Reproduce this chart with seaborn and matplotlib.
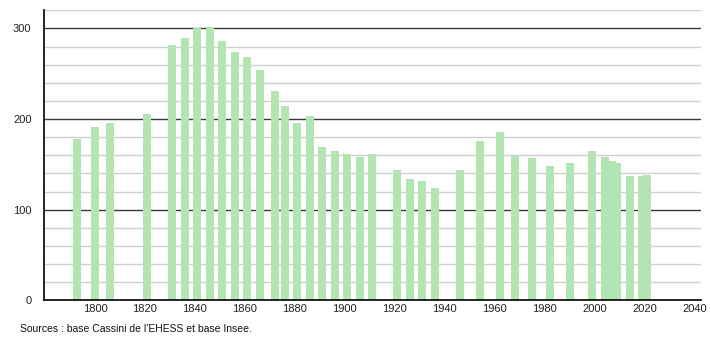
import matplotlib
matplotlib.use("Agg")
import matplotlib.pyplot as plt
import seaborn as sns
import numpy as np
import pandas as pd
from matplotlib.ticker import MultipleLocator

years = [1793, 1800, 1806, 1821, 1831, 1836, 1841, 1846, 1851, 1856,
         1861, 1866, 1872, 1876, 1881, 1886, 1891, 1896, 1901, 1906,
         1911, 1921, 1926, 1931, 1936, 1946, 1954, 1962, 1968, 1975,
         1982, 1990, 1999, 2004, 2007, 2009, 2014, 2019, 2021]
population = [178, 191, 196, 206, 282, 289, 300, 302, 286, 274,
              268, 254, 231, 214, 196, 203, 169, 165, 161, 158,
              161, 144, 134, 132, 124, 144, 176, 186, 159, 157,
              148, 151, 165, 158, 154, 152, 137, 137, 138]
x_ticks = [1800, 1820, 1840, 1860, 1880, 1900, 1920, 1940, 1960, 1980, 2000, 2020, 2040]
y_ticks = [0, 100, 200, 300]
source_text = "Sources : base Cassini de l'EHESS et base Insee."

df = pd.DataFrame({"year": years, "pop": population})

sns.set_style("white")
plt.rcParams['font.family'] = ['Liberation Sans', 'DejaVu Sans']

fig = plt.figure(figsize=(7.1, 3.4), dpi=100)
ax = fig.add_axes([44 / 710, 1 - 300.3 / 340, (700.7 - 44) / 710, (300.3 - 10.3) / 340])

min_gap = np.min(np.diff(sorted(years)))
bar_w = 3.2 / min_gap
sns.barplot(data=df, x="year", y="pop", native_scale=True, width=bar_w,
            color="#b2e5b2", saturation=1, ax=ax, zorder=3, linewidth=0)

ax.set_xlim(1779.6, 2042.4)
ax.set_ylim(0, 320)

# grid lines
for v in range(20, 321, 20):
    if v % 100 == 0:
        ax.axhline(v, color="#3a3a3a", lw=1.0, zorder=1)
    else:
        ax.axhline(v, color="#cfcfcf", lw=1.0, zorder=1)

ax.set_xticks(x_ticks)
ax.set_xticklabels([str(t) for t in x_ticks], fontsize=8, color="#222222")
ax.set_yticks(y_ticks)
ax.set_yticklabels([str(t) for t in y_ticks], fontsize=8, color="#222222")
ax.yaxis.set_minor_locator(MultipleLocator(20))
ax.tick_params(axis="x", length=0, pad=3)
ax.tick_params(axis="y", which="major", length=5, width=1, color="#000000", pad=4)
ax.tick_params(axis="y", which="minor", length=2.5, width=1, color="#000000")
ax.set_xlabel("")
ax.set_ylabel("")

for s in ["top", "right"]:
    ax.spines[s].set_visible(False)
for s in ["left", "bottom"]:
    ax.spines[s].set_color("#000000")
    ax.spines[s].set_linewidth(1.2)
    ax.spines[s].set_zorder(5)

fig.text(20 / 710, 1 - 329 / 340, source_text, fontsize=7.5, color="#111111",
         ha="left", va="center")

fig.savefig("out.png", dpi=100)
